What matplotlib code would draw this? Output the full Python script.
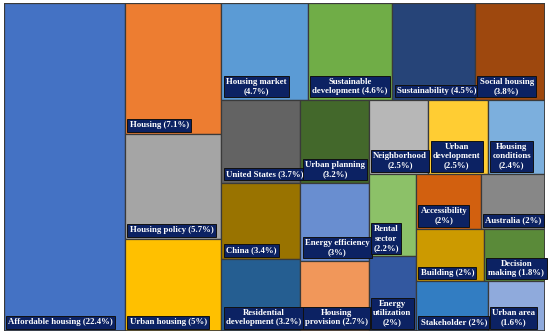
import matplotlib
matplotlib.use("Agg")
import matplotlib.pyplot as plt
from matplotlib.patches import Rectangle

# ---- data ----
names = ["Affordable housing", "Housing", "Housing policy", "Urban housing",
         "Housing market", "Sustainable\ndevelopment", "Sustainability", "Social housing",
         "United States", "China", "Residential\ndevelopment", "Urban planning",
         "Energy efficiency", "Housing\nprovision", "Neighborhood", "Urban\ndevelopment",
         "Housing\nconditions", "Rental\nsector", "Energy\nutilization", "Accessibility",
         "Australia", "Building", "Stakeholder", "Decision\nmaking", "Urban area"]
values = [22.4, 7.1, 5.7, 5.0, 4.7, 4.6, 4.5, 3.8, 3.7, 3.4, 3.2, 3.2, 3.0, 2.7,
          2.5, 2.5, 2.4, 2.2, 2.0, 2.0, 2.0, 2.0, 2.0, 1.8, 1.6]
# separator between name and percentage: " " same line, "\n" new line
seps = [" ", " ", " ", " ", "\n", " ", " ", "\n", " ", " ", " ", "\n", "\n", " ",
        "\n", "\n", "\n", "\n", "\n", "\n", " ", " ", " ", " ", "\n"]
colors = ["#4472C4", "#ED7D31", "#A5A5A5", "#FFC000", "#5B9BD5", "#70AD47",
          "#264478", "#9E480E", "#636363", "#997300", "#255E91", "#43682B",
          "#698ED0", "#F1975A", "#B7B7B7", "#FFCD33", "#7CAFDD", "#8CC168",
          "#3358A0", "#D2600F", "#878787", "#CC9A00", "#327DC2", "#5A8A39",
          "#8FAADC"]

# layout structure: strips (orientation, item indices) cut from remaining area
strips = [("col", [0]), ("col", [1, 2, 3]), ("row", [4, 5, 6, 7]),
          ("col", [8, 9, 10]), ("col", [11, 12, 13]), ("row", [14, 15, 16]),
          ("col", [17, 18]), ("row", [19, 20]), ("row", [21, 23]), ("row", [22, 24])]

W, H = 541.0, 328.0


def layout():
    rects = {}
    x0, y0, x1, y1 = 0.0, 0.0, W, H
    remaining = sum(values)
    for orient, idx in strips:
        tot = sum(values[i] for i in idx)
        frac = tot / remaining
        if orient == "col":
            w = (x1 - x0) * frac
            yy = y0
            for i in idx:
                h = (y1 - y0) * values[i] / tot
                rects[i] = (x0, yy, w, h)
                yy += h
            x0 += w
        else:
            h = (y1 - y0) * frac
            xx = x0
            for i in idx:
                w = (x1 - x0) * values[i] / tot
                rects[i] = (xx, y0, w, h)
                xx += w
            y0 += h
        remaining -= tot
    return rects


fig = plt.figure(figsize=(5.5, 3.35), dpi=100)
ax = fig.add_axes([4 / 550, 4 / 335, 541 / 550, 328 / 335])
ax.set_xlim(0, W)
ax.set_ylim(H, 0)
ax.axis("off")

rects = layout()
for i, (x, y, w, h) in rects.items():
    ax.add_patch(Rectangle((x, y), w, h, facecolor=colors[i],
                           edgecolor="#3a3a3a", linewidth=0.9))
    label = f"{names[i]}{seps[i]}({values[i]:g}%)"
    ax.annotate(label, xy=(x, y + h), xytext=(4.5, 4.5), textcoords="offset pixels",
                ha="left", va="bottom", multialignment="center",
                fontsize=6.3, fontweight="bold", family="Liberation Serif",
                color="white", linespacing=1.2,
                bbox=dict(boxstyle="square,pad=0.25", fc="#0C2263",
                          ec="#111111", lw=0.7))
ax.add_patch(Rectangle((0, 0), W, H, fill=False, edgecolor="#3a3a3a", linewidth=1.2))

fig.savefig("out.png", dpi=100, facecolor="white")
